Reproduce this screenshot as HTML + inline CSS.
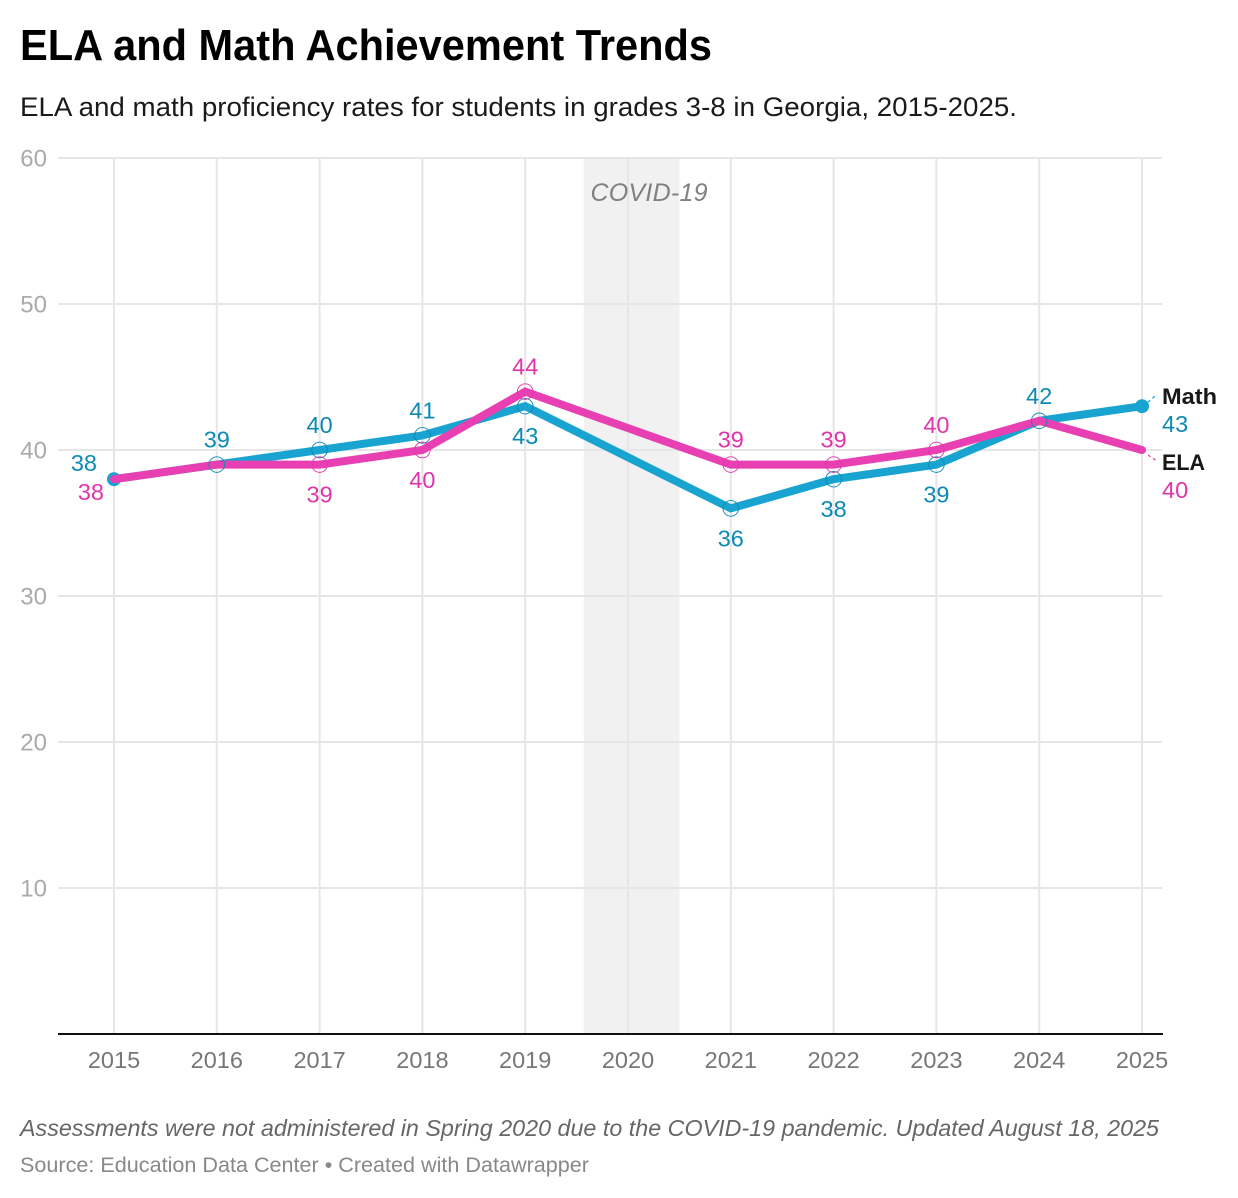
<!DOCTYPE html>
<html lang="en">
<head>
<meta charset="utf-8">
<title>ELA and Math Achievement Trends</title>
<style>
html,body{margin:0;padding:0;background:#fff;}
#chart{display:block;font-family:"Liberation Sans",sans-serif;}
</style>
</head>
<body>
<svg id="chart" xmlns="http://www.w3.org/2000/svg" width="1238" height="1198" viewBox="0 0 1238 1198">
  <rect x="0" y="0" width="1238" height="1198" fill="#ffffff"/>
  <text x="20" y="60" font-size="44" font-weight="700" fill="#000" textLength="692" lengthAdjust="spacingAndGlyphs">ELA and Math Achievement Trends</text>
  <text x="20" y="116" font-size="27" fill="#1a1a1a" textLength="997" lengthAdjust="spacingAndGlyphs">ELA and math proficiency rates for students in grades 3-8 in Georgia, 2015-2025.</text>
  <g id="plot"></g>
  <text x="20" y="1136" font-size="23.5" font-style="italic" fill="#666" textLength="1139" lengthAdjust="spacingAndGlyphs">Assessments were not administered in Spring 2020 due to the COVID-19 pandemic. Updated August 18, 2025</text>
  <text x="20" y="1172" font-size="21.5" fill="#888" textLength="569" lengthAdjust="spacingAndGlyphs">Source: Education Data Center • Created with Datawrapper</text>
</svg>
<script>
var years = [2015, 2016, 2017, 2018, 2019, 2020, 2021, 2022, 2023, 2024, 2025];
var mathValues = [38, 39, 40, 41, 43, null, 36, 38, 39, 42, 43];
var elaValues = [38, 39, 39, 40, 44, null, 39, 39, 40, 42, 40];
var yTicks = [10, 20, 30, 40, 50, 60];
var covidStart = 2019.57;
var covidEnd = 2020.5;

var MATH_LINE = '#18a3d0', MATH_TEXT = '#0c8ab3', ELA_LINE = '#e83fb2', ELA_TEXT = '#e035ab';
var NS = 'http://www.w3.org/2000/svg';
var plot = document.getElementById('plot');

function xScale(year) { return 114 + (year - 2015) * (1142 - 114) / 10; }
function yScale(value) { return 1034 - value * (1034 - 158) / 60; }

function make(tag, attrs, parent) {
  var el = document.createElementNS(NS, tag);
  for (var k in attrs) el.setAttribute(k, attrs[k]);
  (parent || plot).appendChild(el);
  return el;
}
function label(str, x, y, size, fill, anchor, weight) {
  var t = make('text', {x: x, y: y, 'font-size': size, fill: fill, 'text-anchor': anchor || 'middle', 'font-weight': weight || 400});
  t.textContent = str;
  return t;
}

var band = make('rect', {x: xScale(covidStart), y: yScale(60), width: xScale(covidEnd) - xScale(covidStart), height: yScale(0) - yScale(60), fill: '#f1f1f1'});



yTicks.forEach(function (v) {
  var line = make('line', {x1: 58, x2: 1162, y1: yScale(v), y2: yScale(v), stroke: '#e6e6e6', 'stroke-width': 2});
  
  
  var tick = label(String(v), 47, yScale(v) + 8.5, 24, '#aaaaaa', 'end');
  
  
});

years.forEach(function (yr) {
  var line = make('line', {x1: xScale(yr), x2: xScale(yr), y1: yScale(60), y2: yScale(0), stroke: '#e6e6e6', 'stroke-width': 2});
  
  
  var tick = label(String(yr), xScale(yr), 1068, 23.5, '#777777');
  
  
});

var axis = make('line', {x1: 58, x2: 1163, y1: yScale(0), y2: yScale(0), stroke: '#111111', 'stroke-width': 2});



var covidLabel = label('COVID-19', 649, 201, 25, '#808080');
covidLabel.setAttribute('font-style', 'italic');
covidLabel.setAttribute('textLength', '117');



function pathFor(values) {
  var d = '';
  values.forEach(function (v, i) {
    if (v === null) return;
    d += (d ? 'L' : 'M') + xScale(years[i]) + ' ' + yScale(v);
  });
  return d;
}

var lastIndex = years.length - 1;

var mathStart = make('circle', {cx: xScale(years[0]), cy: yScale(mathValues[0]), r: 7, fill: MATH_LINE});



var mathLine = make('path', {d: pathFor(mathValues), fill: 'none', stroke: MATH_LINE, 'stroke-width': 8, 'stroke-linecap': 'round', 'stroke-linejoin': 'miter'});



var mathEnd = make('circle', {cx: xScale(years[lastIndex]), cy: yScale(mathValues[lastIndex]), r: 7, fill: MATH_LINE});



var elaLine = make('path', {d: pathFor(elaValues), fill: 'none', stroke: ELA_LINE, 'stroke-width': 8, 'stroke-linecap': 'round', 'stroke-linejoin': 'miter'});



years.forEach(function (yr, i) {
  var m = mathValues[i], e = elaValues[i];
  if (m === null || e === null) return;
  var x = xScale(yr);
  var isEdge = (i === 0 || i === lastIndex);

  if (!isEdge) {
    var mc = make('circle', {cx: x, cy: yScale(m), r: 7.8, fill: 'none', stroke: MATH_TEXT, 'stroke-width': 0.9});
    
    
    if (e !== m) {
      var ec = make('circle', {cx: x, cy: yScale(e), r: 7.8, fill: 'none', stroke: ELA_TEXT, 'stroke-width': 0.9});
      
      
    }
  }

  if (i === 0) {
    var ms = label(String(m), x - 17, yScale(m) - 8, 23.5, MATH_TEXT, 'end');
    
    
    var es = label(String(e), x - 10, yScale(e) + 21, 23.5, ELA_TEXT, 'end');
    
    
  } else if (i === lastIndex) {
    var mn = label('Math', 1162, yScale(m) - 2, 22.5, '#181818', 'start', 700);
    mn.setAttribute('textLength', '55');
    mn.setAttribute('lengthAdjust', 'spacingAndGlyphs');
    
    
    var mv = label(String(m), 1162, yScale(m) + 26, 23.5, MATH_TEXT, 'start');
    
    
    var en = label('ELA', 1162, yScale(e) + 20, 22.5, '#181818', 'start', 700);
    en.setAttribute('textLength', '43');
    en.setAttribute('lengthAdjust', 'spacingAndGlyphs');
    
    
    var ev = label(String(e), 1162, yScale(e) + 48, 23.5, ELA_TEXT, 'start');
    
    
    var mc2 = make('line', {x1: x + 6, y1: yScale(m) - 4, x2: x + 15, y2: yScale(m) - 12, stroke: MATH_LINE, 'stroke-width': 1.3, 'stroke-dasharray': '3 3'});
    
    
    var ec2 = make('line', {x1: x + 6, y1: yScale(e) + 5, x2: x + 15, y2: yScale(e) + 11, stroke: ELA_LINE, 'stroke-width': 1.3, 'stroke-dasharray': '3 3'});
    
    
  } else {
    var mathAbove = m >= e;
    var mt = label(String(m), x, yScale(m) + (mathAbove ? -17 : 38), 23.5, MATH_TEXT);
    
    
    if (e !== m) {
      var et = label(String(e), x, yScale(e) + (mathAbove ? 38 : -17), 23.5, ELA_TEXT);
      
      
    }
  }
});
</script>
</body>
</html>
